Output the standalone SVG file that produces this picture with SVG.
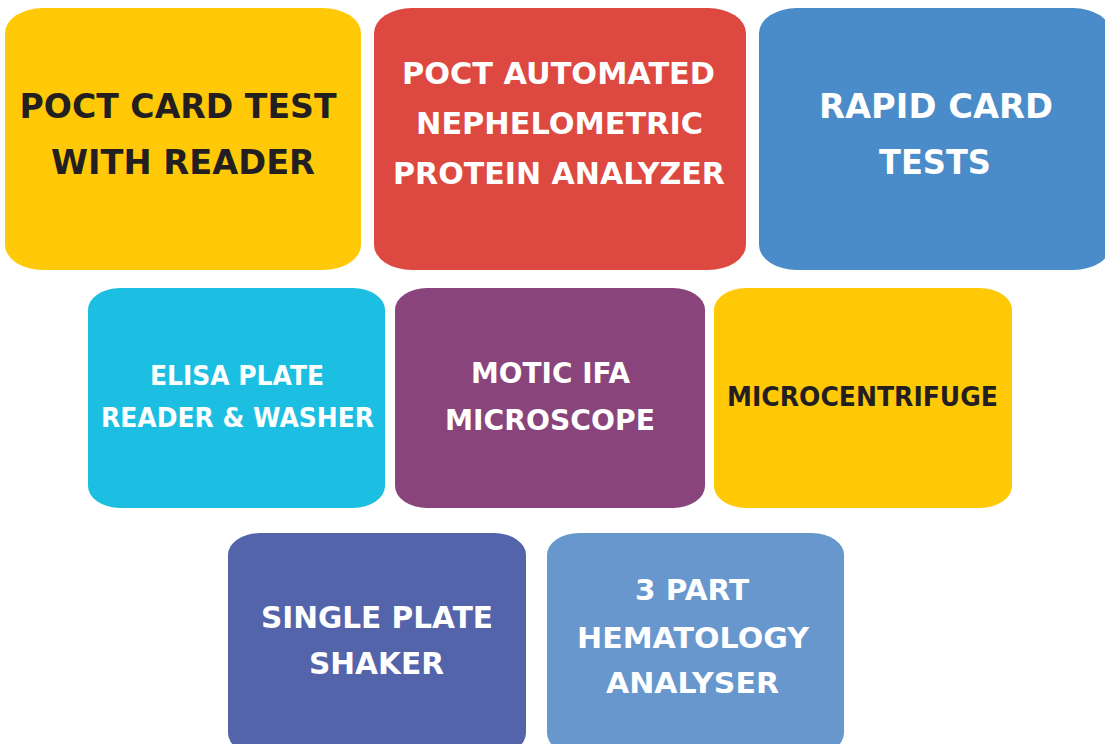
<svg xmlns="http://www.w3.org/2000/svg" width="1105" height="744" viewBox="0 0 1105 744">
<style>
text{font-family:"DejaVu Sans","Liberation Sans",sans-serif;font-weight:bold;text-anchor:middle}
.dk{fill:#231F20}
.wt{fill:#FFFFFF}
</style>
<rect width="1105" height="744" fill="#FFFFFF"/>
<g id="connectors"></g>
<g id="poct-card">
<rect x="5" y="8" width="356" height="262" rx="38" ry="25" fill="#FFC907"/>
<text class="dk" x="178" y="118" font-size="34" textLength="317" lengthAdjust="spacingAndGlyphs">POCT CARD TEST</text>
<text class="dk" x="183" y="174" font-size="34" textLength="264" lengthAdjust="spacingAndGlyphs">WITH READER</text>
</g>
<g id="poct-nephelometric">
<rect x="374" y="8" width="372" height="262" rx="38" ry="25" fill="#DD4841"/>
<text class="wt" x="558.5" y="84" font-size="31" textLength="313" lengthAdjust="spacingAndGlyphs">POCT AUTOMATED</text>
<text class="wt" x="559.5" y="134" font-size="31" textLength="287" lengthAdjust="spacingAndGlyphs">NEPHELOMETRIC</text>
<text class="wt" x="559" y="184" font-size="31" textLength="332" lengthAdjust="spacingAndGlyphs">PROTEIN ANALYZER</text>
</g>
<g id="rapid-card">
<rect x="759" y="8" width="352" height="262" rx="38" ry="25" fill="#4A8BC9"/>
<text class="wt" x="936" y="118" font-size="34" textLength="234" lengthAdjust="spacingAndGlyphs">RAPID CARD</text>
<text class="wt" x="935" y="174" font-size="34" textLength="112" lengthAdjust="spacingAndGlyphs">TESTS</text>
</g>
<g id="elisa">
<rect x="88" y="288" width="297" height="220" rx="32" ry="22" fill="#1CBFE2"/>
<text class="wt" x="237" y="385" font-size="26" textLength="174" lengthAdjust="spacingAndGlyphs">ELISA PLATE</text>
<text class="wt" x="237.5" y="427" font-size="26" textLength="273" lengthAdjust="spacingAndGlyphs">READER &amp; WASHER</text>
</g>
<g id="motic">
<rect x="395" y="288" width="310" height="220" rx="32" ry="22" fill="#89447C"/>
<text class="wt" x="550.5" y="383" font-size="29" textLength="159" lengthAdjust="spacingAndGlyphs">MOTIC IFA</text>
<text class="wt" x="550" y="430" font-size="29" textLength="210" lengthAdjust="spacingAndGlyphs">MICROSCOPE</text>
</g>
<g id="microcentrifuge">
<rect x="714" y="288" width="298" height="220" rx="32" ry="22" fill="#FFC907"/>
<text class="dk" x="862.5" y="406" font-size="26" textLength="271" lengthAdjust="spacingAndGlyphs">MICROCENTRIFUGE</text>
</g>
<g id="shaker">
<rect x="228" y="533" width="298" height="222" rx="32" ry="22" fill="#5364AA"/>
<text class="wt" x="377" y="628" font-size="30" textLength="232" lengthAdjust="spacingAndGlyphs">SINGLE PLATE</text>
<text class="wt" x="376.5" y="674" font-size="30" textLength="135" lengthAdjust="spacingAndGlyphs">SHAKER</text>
</g>
<g id="hematology">
<rect x="547" y="533" width="297" height="222" rx="32" ry="22" fill="#6897CD"/>
<text class="wt" x="692" y="600" font-size="29" textLength="114" lengthAdjust="spacingAndGlyphs">3 PART</text>
<text class="wt" x="693" y="648" font-size="29" textLength="232" lengthAdjust="spacingAndGlyphs">HEMATOLOGY</text>
<text class="wt" x="692.5" y="693" font-size="29" textLength="173" lengthAdjust="spacingAndGlyphs">ANALYSER</text>
</g>
</svg>
